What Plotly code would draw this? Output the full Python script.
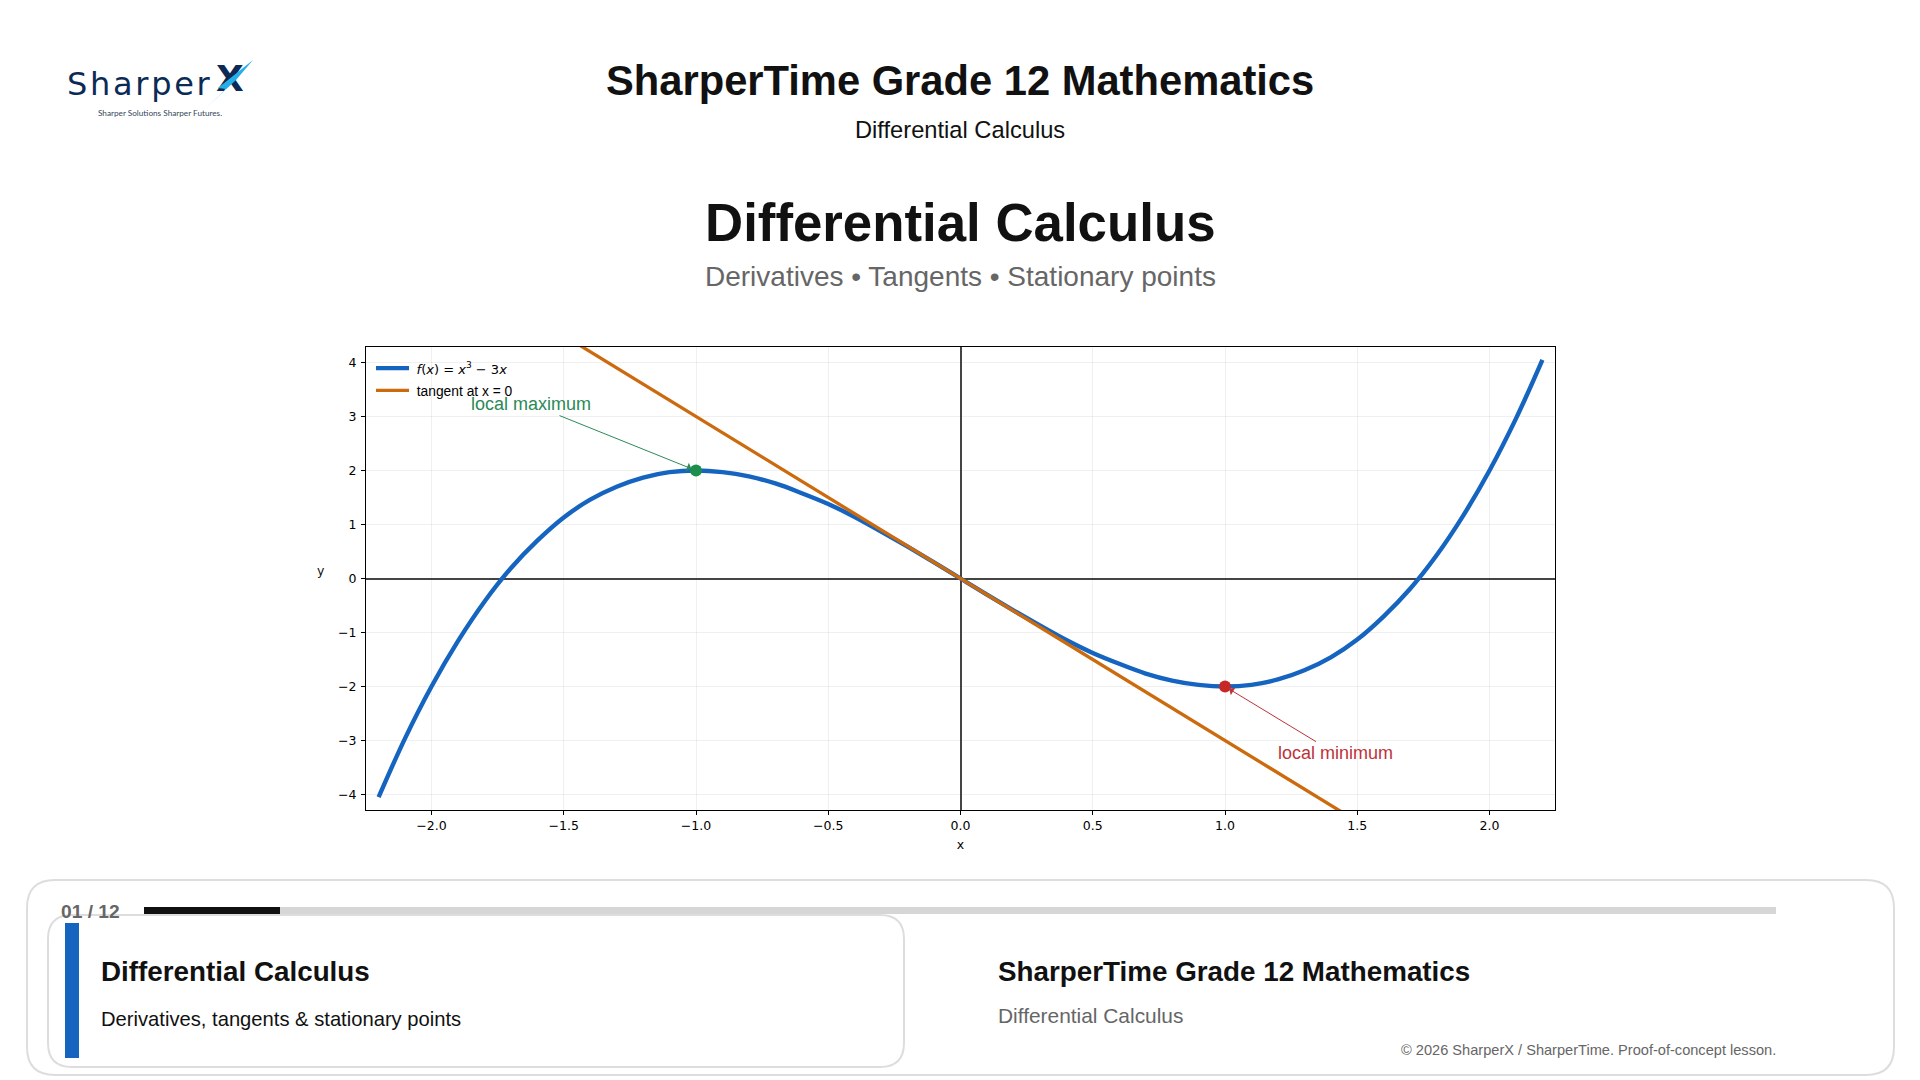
import plotly.graph_objects as go

# values
curve_x = [-2.2, -2.1, -2.0, -1.9, -1.8, -1.7, -1.6, -1.5, -1.4, -1.3, -1.2, -1.1, -1.0,
           -0.9, -0.8, -0.7, -0.6, -0.5, -0.4, -0.3, -0.2, -0.1, 0.0,
           0.1, 0.2, 0.3, 0.4, 0.5, 0.6, 0.7, 0.8, 0.9, 1.0,
           1.1, 1.2, 1.3, 1.4, 1.5, 1.6, 1.7, 1.8, 1.9, 2.0, 2.1, 2.2]
curve_y = [-4.05, -2.96, -2.0, -1.16, -0.43, 0.19, 0.70, 1.13, 1.46, 1.70, 1.87, 1.97, 2.0,
           1.97, 1.89, 1.76, 1.58, 1.38, 1.14, 0.87, 0.59, 0.30, 0.0,
           -0.30, -0.59, -0.87, -1.14, -1.38, -1.58, -1.76, -1.89, -1.97, -2.0,
           -1.97, -1.87, -1.70, -1.46, -1.13, -0.70, -0.19, 0.43, 1.16, 2.0, 2.96, 4.05]
tangent_x = [-2.2, 2.2]
tangent_y = [6.6, -6.6]
max_point = [-1.0, 2.0]
min_point = [1.0, -2.0]
x_ticks = [-2.0, -1.5, -1.0, -0.5, 0.0, 0.5, 1.0, 1.5, 2.0]
y_ticks = [-4, -3, -2, -1, 0, 1, 2, 3, 4]

W, H = 1920, 1080
X_RANGE = [-2.2476, 2.2476]
Y_RANGE = [-4.287, 4.287]
BLUE = '#1565c0'
ORANGE = '#cc6a0e'
GREEN = '#1e8e4e'
RED = '#c62828'
INK = '#111111'
GREY = '#666666'
BORDER = '#dddddd'
NAVY = '#0b2a55'
SANS = 'Liberation Sans'
PLOT_FONT = 'DejaVu Sans'


def px(x):
    return x / W


def py(y):
    return 1 - y / H


def label(x, y, text, size, color=INK, bold=False, anchor='center', family=SANS):
    """Text placed by canvas pixels"""
    return dict(xref='paper', yref='paper', x=px(x), y=py(y), text=f'<b>{text}</b>' if bold else text,
                showarrow=False, xanchor=anchor, yanchor='middle',
                font=dict(family=family, size=size, color=color))


def rect(x0, y0, x1, y1, color):
    return dict(type='rect', xref='paper', yref='paper', x0=px(x0), y0=py(y0), x1=px(x1), y1=py(y1),
                fillcolor=color, line=dict(width=0))


def round_rect(x0, y0, x1, y1, r, color):
    def p(x, y):
        return f'{px(x):.5f},{py(y):.5f}'
    path = (f'M {p(x0 + r, y0)} L {p(x1 - r, y0)} Q {p(x1, y0)} {p(x1, y0 + r)} '
            f'L {p(x1, y1 - r)} Q {p(x1, y1)} {p(x1 - r, y1)} '
            f'L {p(x0 + r, y1)} Q {p(x0, y1)} {p(x0, y1 - r)} '
            f'L {p(x0, y0 + r)} Q {p(x0, y0)} {p(x0 + r, y0)} Z')
    return dict(type='path', xref='paper', yref='paper', path=path, line=dict(color=color, width=2))


def bolt():
    pts = [(253, 60), (218, 88), (226, 89), (206, 108), (236, 80)]
    path = 'M ' + ' L '.join(f'{px(x):.5f},{py(y):.5f}' for x, y in pts) + ' Z'
    return dict(type='path', xref='paper', yref='paper', path=path, fillcolor='#27aee8', line=dict(width=0))


def callout(text, point, text_x, text_y, color):
    """Label sitting at data position text_x, text_y with an arrow to the point"""
    return dict(x=point[0], y=point[1], ax=text_x, ay=text_y, xref='x', yref='y', axref='x', ayref='y',
                text=text, showarrow=True, arrowhead=1, arrowsize=1.5, arrowwidth=1, arrowcolor=color,
                standoff=5, font=dict(family=SANS, size=18, color=color))


fig = go.Figure()
fig.add_trace(go.Scatter(
    x=curve_x, y=curve_y, mode='lines', line=dict(color=BLUE, width=4.4, shape='spline'),
    name=f'<span style="font-family:{PLOT_FONT};font-size:13px">\u2009<i>f</i>(<i>x</i>) = '
         '<i>x</i><sup>3</sup> − 3<i>x</i></span>'))
fig.add_trace(go.Scatter(
    x=tangent_x, y=tangent_y, mode='lines', line=dict(color=ORANGE, width=3.3),
    name='<span style="font-size:13.8px">\u2009tangent at x = 0</span>'))
fig.add_trace(go.Scatter(x=[max_point[0]], y=[max_point[1]], mode='markers',
                         marker=dict(color=GREEN, size=12), showlegend=False))
fig.add_trace(go.Scatter(x=[min_point[0]], y=[min_point[1]], mode='markers',
                         marker=dict(color=RED, size=12), showlegend=False))
# logo X sits on a hidden full-canvas axis pair, as a trace, so the bolt shape can go over it
fig.add_trace(go.Scatter(x=[230], y=[82], xaxis='x2', yaxis='y2', mode='text', text=['<b>X</b>'],
                         textfont=dict(family=PLOT_FONT, size=36, color=NAVY),
                         showlegend=False, hoverinfo='skip'))

shapes = [
    round_rect(27, 880, 1894, 1075, 28, BORDER),
    rect(144, 907, 1776, 914, '#d6d6d6'),
    rect(144, 907, 280, 914, INK),
    round_rect(48, 915, 904, 1067, 24, BORDER),
    rect(65, 923, 79, 1058, BLUE),
    bolt(),
]

annotations = [
    label(960, 81, 'SharperTime Grade 12 Mathematics', 41.7, bold=True),
    label(960, 130, 'Differential Calculus', 23.7),
    label(960, 222.5, 'Differential Calculus', 52.8, bold=True),
    label(960, 276, 'Derivatives • Tangents • Stationary points', 28, color=GREY),
    # logo
    label(65, 84, '<span style="letter-spacing:2.7px">Sharper</span>', 32, color=NAVY, anchor='left', family=PLOT_FONT),
    label(159.5, 113, 'Sharper Solutions Sharper Futures.', 8.2, color='#33475b', family='Lato'),
    # footer
    label(59, 911, '01 / 12', 19.2, color=GREY, bold=True, anchor='left'),
    label(98.5, 971, 'Differential Calculus', 27.8, bold=True, anchor='left'),
    label(98.5, 1019, 'Derivatives, tangents &amp; stationary points', 20.2, anchor='left'),
    label(996, 971, 'SharperTime Grade 12 Mathematics', 27.8, bold=True, anchor='left'),
    label(996, 1015, 'Differential Calculus', 20.9, color=GREY, anchor='left'),
    label(1778, 1050, '© 2026 SharperX / SharperTime. Proof-of-concept lesson.', 14.6, color=GREY, anchor='right'),
    # plot notes
    label(321, 570, 'y', 12.5, family=PLOT_FONT),
    callout('local maximum', max_point, -1.624, 3.23, '#2a8a58'),
    callout('local minimum', min_point, 1.416, -3.235, '#bd3339'),
]

axis_style = dict(
    showline=True, mirror=True, linecolor='black', linewidth=1,
    ticks='outside', ticklen=4, tickwidth=1, tickcolor='black',
    showgrid=True, gridcolor='rgba(0,0,0,0.06)', gridwidth=1,
    zeroline=True, zerolinecolor='#444444', zerolinewidth=2,
    tickfont=dict(family=PLOT_FONT, size=12.5, color='black'),
)

fig.update_layout(
    width=W, height=H,
    margin=dict(l=0, r=0, t=0, b=0, autoexpand=False),
    paper_bgcolor='white', plot_bgcolor='rgba(0,0,0,0)',
    xaxis=dict(domain=[px(366), px(1555)], range=X_RANGE, tickvals=x_ticks, tickformat='.1f',
               title=dict(text='x', font=dict(family=PLOT_FONT, size=12.5, color='black'), standoff=8),
               automargin=False, **axis_style),
    yaxis=dict(domain=[py(810), py(347)], range=Y_RANGE, tickvals=y_ticks, ticklabelstandoff=2,
               automargin=False, **axis_style),
    xaxis2=dict(domain=[0, 1], range=[0, W], visible=False, anchor='y2'),
    yaxis2=dict(domain=[0, 1], range=[H, 0], visible=False, anchor='x2'),
    legend=dict(xref='paper', yref='paper', x=px(371), y=py(352), xanchor='left', yanchor='top',
                bgcolor='rgba(0,0,0,0)', font=dict(family=SANS, size=14.8, color='black'),
                itemwidth=33, tracegroupgap=0),
    shapes=shapes,
    annotations=annotations,
)

fig.write_html("out.html", config=dict(displayModeBar=False),
               post_script="document.body.style.margin='0';document.body.style.overflow='hidden';")
